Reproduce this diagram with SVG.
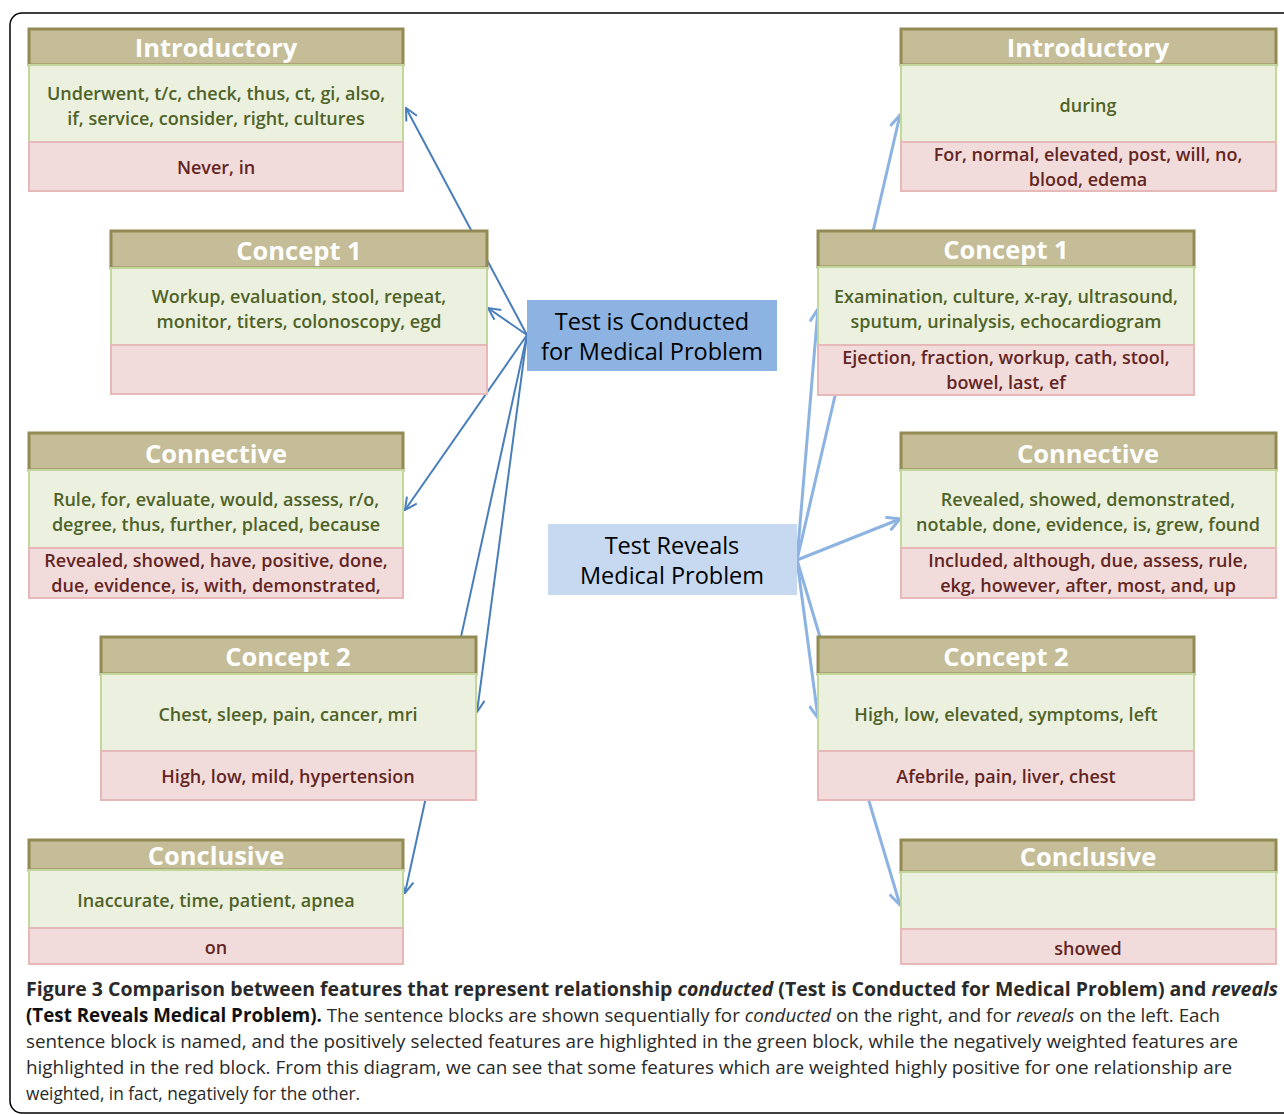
<svg xmlns="http://www.w3.org/2000/svg" width="1284" height="1114" viewBox="0 0 1284 1114">
<defs>
<style>
.hd{fill:#c4bd97;stroke:#948a54;stroke-width:3}
.gr{fill:#ebf1de;stroke:#c3d69b;stroke-width:2}
.rd{fill:#f2dcdb;stroke:#e6b9b8;stroke-width:2}
.ht{font-family:"Open Sans","DejaVu Sans",sans-serif;font-weight:700;font-size:25.5px;fill:#ffffff;text-anchor:middle;dominant-baseline:central}
.gt{font-family:"Open Sans","DejaVu Sans",sans-serif;font-weight:600;font-size:18px;fill:#4f6228;text-anchor:middle;dominant-baseline:central}
.rt{font-family:"Open Sans","DejaVu Sans",sans-serif;font-weight:600;font-size:18px;fill:#632523;text-anchor:middle;dominant-baseline:central}
.ct{font-family:"Open Sans","DejaVu Sans",sans-serif;font-weight:400;font-size:23.5px;fill:#000000;text-anchor:middle;dominant-baseline:central}
.lc{fill:none;stroke:#4a7ebb;stroke-width:2}
.rc{fill:none;stroke:#8db3e2;stroke-width:3}
.cap{font-family:"Open Sans","DejaVu Sans",sans-serif;font-size:19px;fill:#2a2a2a}
</style>
<marker id="al" viewBox="0 0 14 14" refX="13" refY="7" markerWidth="14" markerHeight="14" markerUnits="userSpaceOnUse" orient="auto">
<path d="M1,1 L13,7 L1,13" fill="none" stroke="#4a7ebb" stroke-width="2"/>
</marker>
<marker id="ar" viewBox="0 0 16 16" refX="14" refY="8" markerWidth="16" markerHeight="16" markerUnits="userSpaceOnUse" orient="auto">
<path d="M1,1 L14,8 L1,15" fill="none" stroke="#8db3e2" stroke-width="3"/>
</marker>
</defs>
<rect x="0" y="0" width="1284" height="1114" fill="#ffffff"/>
<rect x="10" y="13" width="1300" height="1100" rx="12" fill="none" stroke="#000000" stroke-width="1.5"/>

<g id="connectors">
<line class="lc" x1="527" y1="335" x2="406" y2="108" marker-end="url(#al)"/>
<line class="lc" x1="527" y1="335" x2="488" y2="308" marker-end="url(#al)"/>
<line class="lc" x1="527" y1="335" x2="405" y2="510" marker-end="url(#al)"/>
<line class="lc" x1="527" y1="335" x2="477" y2="712" marker-end="url(#al)"/>
<line class="lc" x1="527" y1="335" x2="405" y2="893" marker-end="url(#al)"/>
<line class="rc" x1="797" y1="560" x2="900" y2="115" marker-end="url(#ar)"/>
<line class="rc" x1="797" y1="560" x2="818" y2="309" marker-end="url(#ar)"/>
<line class="rc" x1="797" y1="560" x2="900" y2="519" marker-end="url(#ar)"/>
<line class="rc" x1="797" y1="560" x2="818" y2="718" marker-end="url(#ar)"/>
<line class="rc" x1="797" y1="560" x2="900" y2="905" marker-end="url(#ar)"/>
</g>

<g id="conducted">
<rect x="527" y="300" width="250" height="71" fill="#8db3e2"/>
<text class="ct" x="652" y="321">Test is Conducted</text>
<text class="ct" x="652" y="351">for Medical Problem</text>
</g>
<g id="reveals">
<rect x="548" y="524" width="249" height="71" fill="#c6d9f1"/>
<text class="ct" x="672" y="545">Test Reveals</text>
<text class="ct" x="672" y="575">Medical Problem</text>
</g>

<g id="l-introductory">
<rect class="hd" x="29" y="29" width="374" height="36"/>
<rect class="gr" x="29" y="65" width="374" height="77"/>
<rect class="rd" x="29" y="142" width="374" height="49"/>
<text class="ht" x="216" y="47">Introductory</text>
<text class="gt" x="216" y="93">Underwent, t/c, check, thus, ct, gi, also,</text>
<text class="gt" x="216" y="118">if, service, consider, right, cultures</text>
<text class="rt" x="216" y="167">Never, in</text>
</g>
<g id="l-concept1">
<rect class="hd" x="111" y="231" width="376" height="37"/>
<rect class="gr" x="111" y="268" width="376" height="77"/>
<rect class="rd" x="111" y="345" width="376" height="49"/>
<text class="ht" x="299" y="250">Concept 1</text>
<text class="gt" x="299" y="296">Workup, evaluation, stool, repeat,</text>
<text class="gt" x="299" y="321">monitor, titers, colonoscopy, egd</text>
</g>
<g id="l-connective">
<rect class="hd" x="29" y="433" width="374" height="37"/>
<rect class="gr" x="29" y="470" width="374" height="78"/>
<rect class="rd" x="29" y="548" width="374" height="50"/>
<text class="ht" x="216" y="453">Connective</text>
<text class="gt" x="216" y="499">Rule, for, evaluate, would, assess, r/o,</text>
<text class="gt" x="216" y="524">degree, thus, further, placed, because</text>
<text class="rt" x="216" y="560">Revealed, showed, have, positive, done,</text>
<text class="rt" x="216" y="585">due, evidence, is, with, demonstrated,</text>
</g>
<g id="l-concept2">
<rect class="hd" x="101" y="637" width="375" height="37"/>
<rect class="gr" x="101" y="674" width="375" height="77"/>
<rect class="rd" x="101" y="751" width="375" height="49"/>
<text class="ht" x="288" y="656">Concept 2</text>
<text class="gt" x="288" y="714">Chest, sleep, pain, cancer, mri</text>
<text class="rt" x="288" y="776">High, low, mild, hypertension</text>
</g>
<g id="l-conclusive">
<rect class="hd" x="29" y="840" width="374" height="30"/>
<rect class="gr" x="29" y="870" width="374" height="58"/>
<rect class="rd" x="29" y="928" width="374" height="36"/>
<text class="ht" x="216" y="855">Conclusive</text>
<text class="gt" x="216" y="900">Inaccurate, time, patient, apnea</text>
<text class="rt" x="216" y="947">on</text>
</g>

<g id="r-introductory">
<rect class="hd" x="901" y="29" width="375" height="36"/>
<rect class="gr" x="901" y="65" width="375" height="77"/>
<rect class="rd" x="901" y="142" width="375" height="49"/>
<text class="ht" x="1088" y="47">Introductory</text>
<text class="gt" x="1088" y="105">during</text>
<text class="rt" x="1088" y="154">For, normal, elevated, post, will, no,</text>
<text class="rt" x="1088" y="179">blood, edema</text>
</g>
<g id="r-concept1">
<rect class="hd" x="818" y="231" width="376" height="36"/>
<rect class="gr" x="818" y="267" width="376" height="78"/>
<rect class="rd" x="818" y="345" width="376" height="50"/>
<text class="ht" x="1006" y="249">Concept 1</text>
<text class="gt" x="1006" y="296">Examination, culture, x-ray, ultrasound,</text>
<text class="gt" x="1006" y="321">sputum, urinalysis, echocardiogram</text>
<text class="rt" x="1006" y="357">Ejection, fraction, workup, cath, stool,</text>
<text class="rt" x="1006" y="382">bowel, last, ef</text>
</g>
<g id="r-connective">
<rect class="hd" x="901" y="433" width="375" height="37"/>
<rect class="gr" x="901" y="470" width="375" height="78"/>
<rect class="rd" x="901" y="548" width="375" height="50"/>
<text class="ht" x="1088" y="453">Connective</text>
<text class="gt" x="1088" y="499">Revealed, showed, demonstrated,</text>
<text class="gt" x="1088" y="524">notable, done, evidence, is, grew, found</text>
<text class="rt" x="1088" y="560">Included, although, due, assess, rule,</text>
<text class="rt" x="1088" y="585">ekg, however, after, most, and, up</text>
</g>
<g id="r-concept2">
<rect class="hd" x="818" y="637" width="376" height="37"/>
<rect class="gr" x="818" y="674" width="376" height="77"/>
<rect class="rd" x="818" y="751" width="376" height="49"/>
<text class="ht" x="1006" y="656">Concept 2</text>
<text class="gt" x="1006" y="714">High, low, elevated, symptoms, left</text>
<text class="rt" x="1006" y="776">Afebrile, pain, liver, chest</text>
</g>
<g id="r-conclusive">
<rect class="hd" x="901" y="840" width="375" height="32"/>
<rect class="gr" x="901" y="872" width="375" height="57"/>
<rect class="rd" x="901" y="929" width="375" height="35"/>
<text class="ht" x="1088" y="856">Conclusive</text>
<text class="rt" x="1088" y="948">showed</text>
</g>

<g id="caption">
<text class="cap" x="26" y="996" textLength="1252" lengthAdjust="spacingAndGlyphs" font-weight="700" fill="#111">Figure 3 Comparison between features that represent relationship <tspan font-style="italic">conducted</tspan> (Test is Conducted for Medical Problem) and <tspan font-style="italic">reveals</tspan></text>
<text class="cap" x="26" y="1022" textLength="1194" lengthAdjust="spacingAndGlyphs"><tspan font-weight="700" fill="#111">(Test Reveals Medical Problem).</tspan> The sentence blocks are shown sequentially for <tspan font-style="italic">conducted</tspan> on the right, and for <tspan font-style="italic">reveals</tspan> on the left. Each</text>
<text class="cap" x="26" y="1048" textLength="1212" lengthAdjust="spacingAndGlyphs">sentence block is named, and the positively selected features are highlighted in the green block, while the negatively weighted features are</text>
<text class="cap" x="26" y="1074" textLength="1206" lengthAdjust="spacingAndGlyphs">highlighted in the red block. From this diagram, we can see that some features which are weighted highly positive for one relationship are</text>
<text class="cap" x="26" y="1100" textLength="334" lengthAdjust="spacingAndGlyphs">weighted, in fact, negatively for the other.</text>
</g>
</svg>
